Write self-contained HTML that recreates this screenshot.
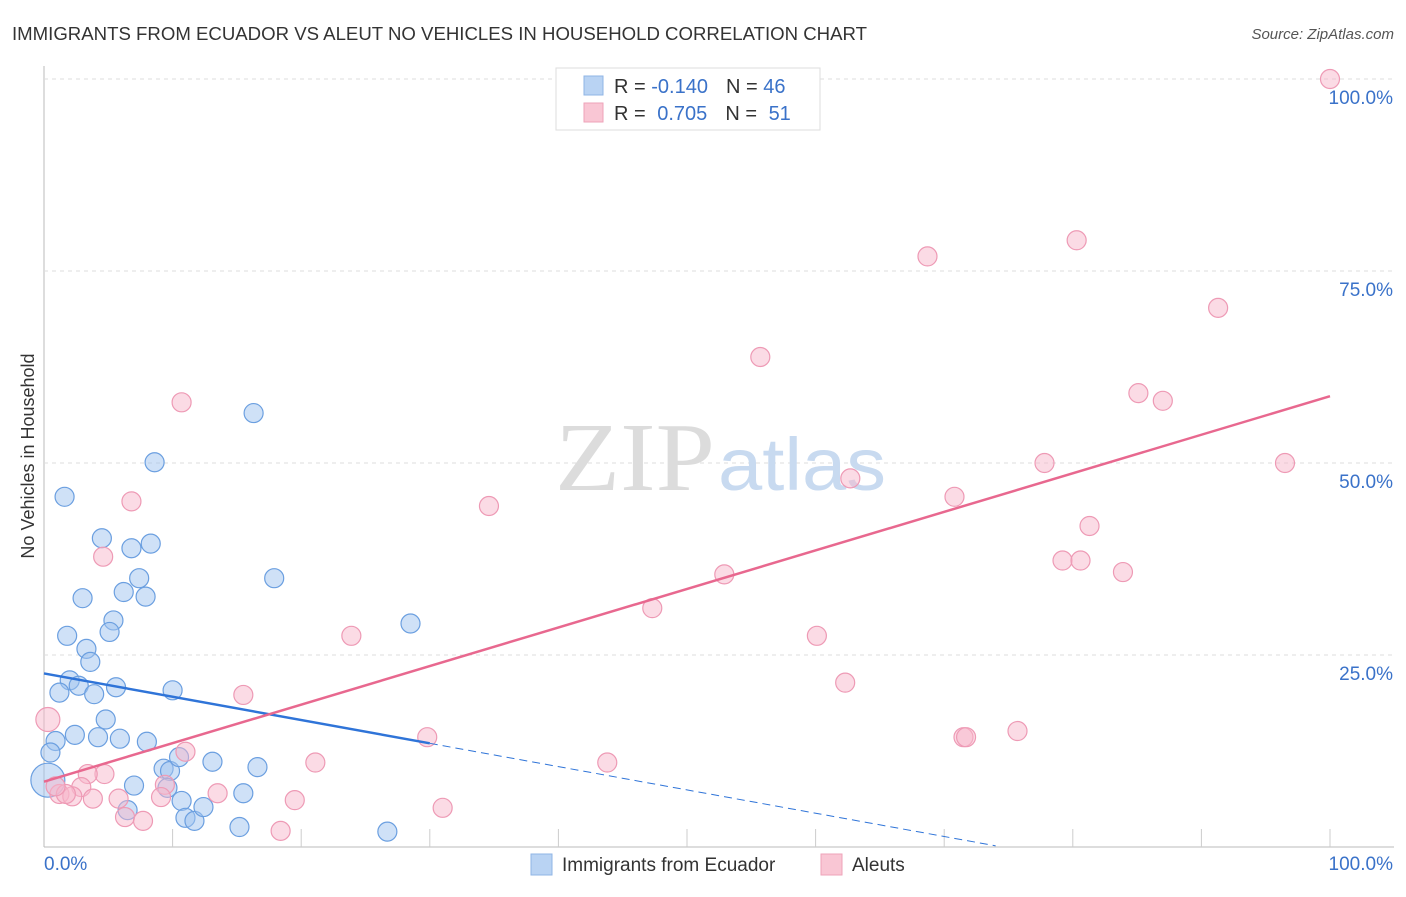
<!DOCTYPE html>
<html><head><meta charset="utf-8">
<style>
body{margin:0;background:#fff;font-family:"Liberation Sans",sans-serif;}
svg text{font-family:"Liberation Sans",sans-serif;}
svg text.serif{font-family:"Liberation Serif",serif;}
</style></head><body>
<svg id="chart" width="1406" height="892" xmlns="http://www.w3.org/2000/svg">
<text x="12" y="40" font-size="18" fill="#333" textLength="855" lengthAdjust="spacingAndGlyphs">IMMIGRANTS FROM ECUADOR VS ALEUT NO VEHICLES IN HOUSEHOLD CORRELATION CHART</text>
<text x="1394" y="39" font-size="15" fill="#555" font-style="italic" text-anchor="end">Source: ZipAtlas.com</text>
<g id="grid"></g>
<text class="serif" x="555" y="490" font-size="98" fill="#dcdcdc" textLength="160" lengthAdjust="spacingAndGlyphs">ZIP</text>
<text x="718" y="490" font-size="74" fill="#c8daf0" textLength="168" lengthAdjust="spacingAndGlyphs">atlas</text>
<text x="34" y="456" font-size="18" fill="#333" text-anchor="middle" transform="rotate(-90 34 456)">No Vehicles in Household</text>
<g id="marks"></g>
<g>
<rect x="556" y="68" width="264" height="62" fill="#fff" stroke="#ddd"/>
<rect x="584" y="76" width="19" height="19" fill="#b9d3f3" stroke="#8fb4e6"/>
<rect x="584" y="103" width="19" height="19" fill="#f9c6d4" stroke="#eea3b9"/>
<text x="614" y="93" font-size="20" fill="#333">R = <tspan fill="#3a72c9">-0.140</tspan><tspan dx="18">N = </tspan><tspan fill="#3a72c9">46</tspan></text>
<text x="614" y="120" font-size="20" fill="#333">R = <tspan dx="6" fill="#3a72c9">0.705</tspan><tspan dx="18">N = </tspan><tspan dx="6" fill="#3a72c9">51</tspan></text>
</g>
<g>
<rect x="531" y="854" width="21" height="21" fill="#b9d3f3" stroke="#8fb4e6"/>
<text x="562" y="871" font-size="19" fill="#333">Immigrants from Ecuador</text>
<rect x="821" y="854" width="21" height="21" fill="#f9c6d4" stroke="#eea3b9"/>
<text x="852" y="871" font-size="19" fill="#333">Aleuts</text>
</g>
</svg>
<script>
const yTicks=[25,50,75,100];
const yTickLabels=["25.0%","50.0%","75.0%","100.0%"];
const xTickLabels=["0.0%","100.0%"];
const blueX=[1.6,4.5,6.8,8.3,3.0,7.4,6.2,7.9,5.4,5.1,1.8,3.3,3.6,2.0,2.7,1.2,3.9,5.6,10.0,4.8,0.9,2.4,4.2,5.9,8.0,0.5,0.3,7.0,9.3,9.8,10.5,13.1,9.6,15.5,16.6,10.7,11.0,11.7,12.4,15.2,6.5,8.6,16.3,17.9,28.5,26.7];
const blueY=[45.6,40.2,38.9,39.5,32.4,35.0,33.2,32.6,29.5,28.0,27.5,25.8,24.1,21.7,21.0,20.1,19.9,20.8,20.4,16.6,13.8,14.6,14.3,14.1,13.7,12.3,8.7,8.0,10.2,9.9,11.7,11.1,7.7,7.0,10.4,6.0,3.8,3.4,5.2,2.6,4.8,50.1,56.5,35.0,29.1,2.0];
const pinkX=[100,80.3,68.7,91.3,55.7,85.1,87.0,10.7,77.8,96.5,62.7,70.8,34.6,6.8,4.6,81.3,79.2,80.6,83.9,52.9,47.3,23.9,60.1,62.3,15.5,75.7,71.5,71.7,29.8,11.0,43.8,21.1,4.7,3.4,9.4,13.5,2.9,1.2,2.2,1.7,3.8,5.8,9.1,19.5,6.3,7.7,18.4,31.0,0.3,0.9];
const pinkY=[100,79.0,76.9,70.2,63.8,59.1,58.1,57.9,50.0,50.0,48.0,45.6,44.4,45.0,37.8,41.8,37.3,37.3,35.8,35.5,31.1,27.5,27.5,21.4,19.8,15.1,14.3,14.3,14.3,12.4,11.0,11.0,9.5,9.5,8.1,7.0,7.8,6.9,6.6,6.9,6.3,6.3,6.5,6.1,3.9,3.4,2.1,5.1,16.6,7.9];
const blueTrend=[22.6,13.5];
const blueTrendX=[0,30,74];
const pinkTrend=[8.5,58.7];
const X0=44,X1=1330,Y0=847,Y1=79;
const sx=v=>X0+(X1-X0)*v/100, sy=v=>Y0-(Y0-Y1)*v/100;
const NS="http://www.w3.org/2000/svg";
const grid=document.getElementById('grid'), marks=document.getElementById('marks');
function mk(t,a,p){const e=document.createElementNS(NS,t);for(const k in a)e.setAttribute(k,a[k]);p.appendChild(e);return e;}
let ax=mk('line',{x1:X0,y1:66,x2:X0,y2:Y0,stroke:'#bbb'},grid);


let bx=mk('line',{x1:X0,y1:Y0,x2:1394,y2:Y0,stroke:'#bbb'},grid);


for(let i=1;i<=10;i++){const x=X0+(X1-X0)*i/10;const t=mk('line',{x1:x,y1:Y0-18,x2:x,y2:Y0,stroke:'#ccc'},grid);

}
yTicks.forEach((v,i)=>{const y=sy(v);const g=mk('line',{x1:X0,y1:y,x2:1394,y2:y,stroke:'#ddd','stroke-dasharray':'4,4'},grid);


const t=mk('text',{x:1393,y:y+25,'font-size':19,fill:'#3a72c9','text-anchor':'end'},grid);t.textContent=yTickLabels[i];

});
const xl=mk('text',{x:44,y:870,'font-size':19,fill:'#3a72c9'},grid);xl.textContent=xTickLabels[0];


const xr=mk('text',{x:1393,y:870,'font-size':19,fill:'#3a72c9','text-anchor':'end'},grid);xr.textContent=xTickLabels[1];


blueX.forEach((v,i)=>{const r=i==26?17:9.5;const c=mk('circle',{cx:sx(v),cy:sy(blueY[i]),r:r,fill:'rgba(160,196,240,0.5)',stroke:'#6b9fe0','stroke-width':1.2},marks);

});
pinkX.forEach((v,i)=>{const r=i==48?12:9.5;const c=mk('circle',{cx:sx(v),cy:sy(pinkY[i]),r:r,fill:'rgba(248,184,204,0.5)',stroke:'#ee9ab5','stroke-width':1.2},marks);

});
const slope=(blueTrend[1]-blueTrend[0])/(blueTrendX[1]-blueTrendX[0]);
const bl=mk('line',{x1:sx(0),y1:sy(blueTrend[0]),x2:sx(blueTrendX[1]),y2:sy(blueTrend[1]),stroke:'#2f74d8','stroke-width':2.5},marks);


const bd=mk('line',{x1:sx(blueTrendX[1]),y1:sy(blueTrend[1]),x2:sx(blueTrendX[2]),y2:sy(blueTrend[0]+slope*blueTrendX[2]),stroke:'#2f74d8','stroke-width':1,'stroke-dasharray':'8,5'},marks);


const pl=mk('line',{x1:sx(0),y1:sy(pinkTrend[0]),x2:sx(100),y2:sy(pinkTrend[1]),stroke:'#e8688f','stroke-width':2.5},marks);


</script>
</body></html>
